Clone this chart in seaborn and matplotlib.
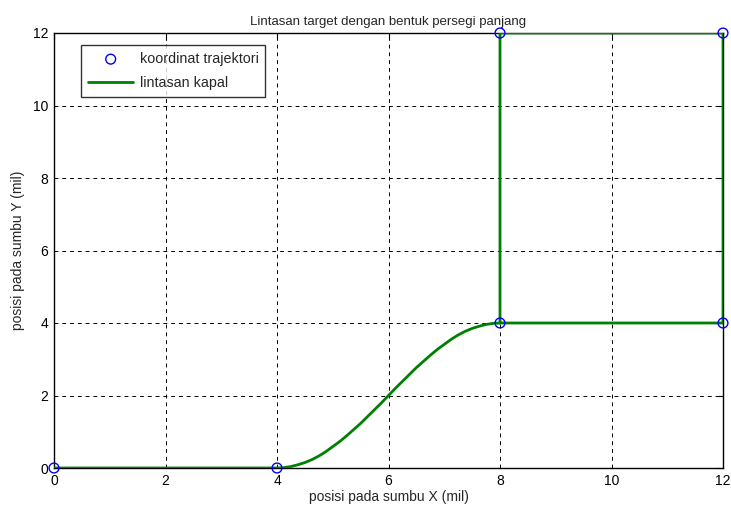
import matplotlib
matplotlib.use("Agg")
import matplotlib.pyplot as plt
import seaborn as sns
import pandas as pd

# waypoints (koordinat trajektori)
wp_x = [0, 4, 8, 8, 12, 12]
wp_y = [0, 0, 4, 12, 12, 4]

# ship path (lintasan kapal)
path_x = [0, 4, 4.125, 4.25, 4.375, 4.5, 4.625, 4.75, 4.875, 5, 5.125, 5.25,
          5.375, 5.5, 5.625, 5.75, 5.875, 6, 6.125, 6.25, 6.375, 6.5, 6.625,
          6.75, 6.875, 7, 7.125, 7.25, 7.375, 7.5, 7.625, 7.75, 7.875, 8,
          8, 12, 12, 8]
path_y = [0, 0, 0.01, 0.04, 0.09, 0.15, 0.23, 0.33, 0.45, 0.59, 0.73, 0.89,
          1.06, 1.23, 1.42, 1.61, 1.80, 2.0, 2.20, 2.39, 2.58, 2.77, 2.94,
          3.11, 3.27, 3.41, 3.55, 3.67, 3.77, 3.85, 3.91, 3.96, 3.99, 4.0,
          12, 12, 4, 4]

ticks = [0, 2, 4, 6, 8, 10, 12]

title = "Lintasan target dengan bentuk persegi panjang"
xlabel = "posisi pada sumbu X (mil)"
ylabel = "posisi pada sumbu Y (mil)"

sns.set_style("white")
plt.rcParams['font.family'] = ['Liberation Sans', 'DejaVu Sans']

fig = plt.figure(figsize=(7.31, 5.14), dpi=100)
ax = fig.add_axes([54/731, 46/514, 669/731, 435/514])

df_path = pd.DataFrame({"x": path_x, "y": path_y})
df_wp = pd.DataFrame({"x": wp_x, "y": wp_y})

sns.scatterplot(data=df_wp, x="x", y="y", ax=ax, marker="o", s=50,
                facecolor="none", edgecolor="#0000ff", linewidth=1.0,
                label="koordinat trajektori", zorder=4, clip_on=False)
sns.lineplot(data=df_path, x="x", y="y", ax=ax, sort=False, estimator=None,
             color="#008000", linewidth=2, label="lintasan kapal", zorder=3,
             solid_joinstyle="round")

ax.set_xlim(0, 12)
ax.set_ylim(0, 12)
ax.set_xticks(ticks)
ax.set_yticks(ticks)
ax.grid(True, color="black", linestyle=(0, (4, 4)), linewidth=0.7)
ax.set_axisbelow(True)
for s in ax.spines.values():
    s.set_visible(True)
    s.set_color("black")
    s.set_linewidth(1.0)
ax.tick_params(direction="in", length=5, top=True, right=True, labelsize=10,
               colors="black", pad=4)

ax.set_title(title, fontsize=9.5, pad=6)
ax.set_xlabel(xlabel, fontsize=10, labelpad=2)
ax.set_ylabel(ylabel, fontsize=10, labelpad=6)

leg = ax.legend(loc="upper left", bbox_to_anchor=(0.041, 0.972), frameon=True,
                fancybox=False, edgecolor="black", fontsize=10.3,
                handlelength=3.15, handletextpad=0.45, borderpad=0.47,
                labelspacing=0.7, borderaxespad=0.0)
leg.get_frame().set_linewidth(1.0)

fig.savefig("out.png", dpi=100)
